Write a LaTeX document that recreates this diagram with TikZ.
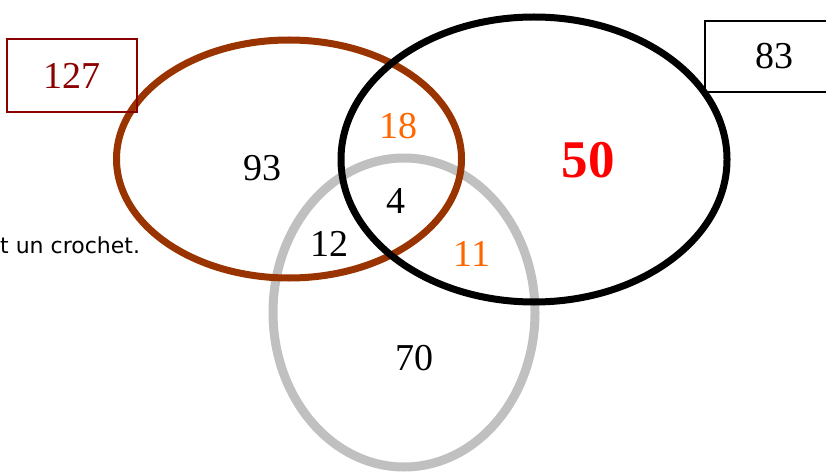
\documentclass[tikz,border=0pt]{standalone}
\usepackage{fontspec}
\setmainfont{Liberation Serif}
\newfontfamily\notefont{DejaVu Sans}
\usepackage{xcolor}
\usetikzlibrary{positioning}

\definecolor{setbrown}{HTML}{993300}
\definecolor{setgray}{HTML}{C0C0C0}
\definecolor{numorange}{HTML}{FF6600}
\definecolor{boxred}{HTML}{8B0000}

\begin{document}
\begin{tikzpicture}[
  x=1pt, y=-1pt,
  num/.style={font=\fontsize{38}{40}\selectfont, inner sep=0pt},
  inter/.style={num, text=numorange},
  total/.style={rectangle, draw, line width=1.5pt, minimum width=130pt, minimum height=73pt, font=\fontsize{38}{40}\selectfont},
  setring/.style={line width=7pt}
]
\useasboundingbox (0,0) rectangle (826,473);

% the three sets
\draw[setring, setgray, line width=9pt] (404,312.5) ellipse [x radius=131, y radius=154.5];
\draw[setring, setbrown] (289,159) ellipse [x radius=172.5, y radius=119];
\draw[setring, black] (534,159.5) ellipse [x radius=193, y radius=142.5];

% totals
\node[total, draw=boxred, text=boxred] (totA) at (72,75.5) {127};
\node[total, anchor=west, minimum width=140pt, minimum height=71pt] (totB) at (704,56.5) {83};

% region counts
\node[num] (onlyA) at (262,168) {93};
\node[inter] (AB) at (398,126) {18};
\node[num] (ABC) at (396,201) {4};
\node[num] (AC) at (329,244) {12};
\node[inter] (BC) at (472,254) {11};
\node[num] (onlyC) at (414,358) {70};
\node[num, text=red, font=\fontsize{53}{55}\selectfont\bfseries] (onlyB) at (588,160) {50};

\node[anchor=west, inner sep=0pt, font=\notefont\fontsize{22}{24}\selectfont] (note) at (0,245) {t un crochet.};

\end{tikzpicture}
\end{document}
